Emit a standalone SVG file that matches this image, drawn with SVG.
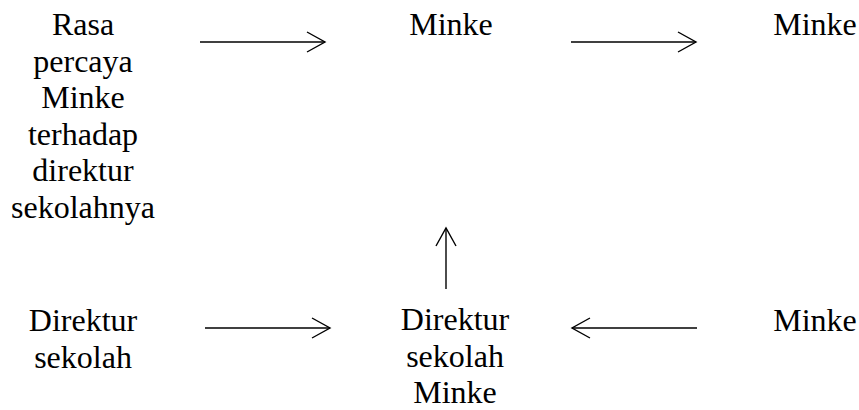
<svg xmlns="http://www.w3.org/2000/svg" width="859" height="410" viewBox="0 0 859 410">
<style>
.t{font-family:'Liberation Serif','Times New Roman',serif;font-size:32px;fill:#000;text-anchor:middle}
.c line{stroke:#000;stroke-width:1.4;fill:none}
.c path{stroke:#000;stroke-width:1.4;fill:none}
</style>
<rect width="859" height="410" fill="#fff"/>
<g id="n1"><text class="t" x="83" y="35">Rasa<tspan x="83" dy="36.6">percaya</tspan><tspan x="83" dy="36.6">Minke</tspan><tspan x="83" dy="36.6">terhadap</tspan><tspan x="83" dy="36.6">direktur</tspan><tspan x="83" dy="36.6">sekolahnya</tspan></text></g>
<g id="n2"><text class="t" x="451" y="35">Minke</text></g>
<g id="n3"><text class="t" x="815" y="35">Minke</text></g>
<g id="n4"><text class="t" x="83" y="331">Direktur<tspan x="83" dy="36.6">sekolah</tspan></text></g>
<g id="n5"><text class="t" x="455" y="330">Direktur<tspan x="455" dy="36.6">sekolah</tspan><tspan x="455" dy="36.6">Minke</tspan></text></g>
<g id="n6"><text class="t" x="815" y="331">Minke</text></g>
<g class="c" id="connectors">
<line x1="200" y1="42" x2="325" y2="42"/><path d="M307,32 L325,42 L307,52"/>
<line x1="571" y1="42" x2="696" y2="42"/><path d="M678,32 L696,42 L678,52"/>
<line x1="205" y1="328" x2="330" y2="328"/><path d="M312,318 L330,328 L312,338"/>
<line x1="697" y1="328" x2="572" y2="328"/><path d="M590,318 L572,328 L590,338"/>
<line x1="446" y1="289" x2="446" y2="228"/><path d="M436,246 L446,228 L456,246"/>
</g>
</svg>
